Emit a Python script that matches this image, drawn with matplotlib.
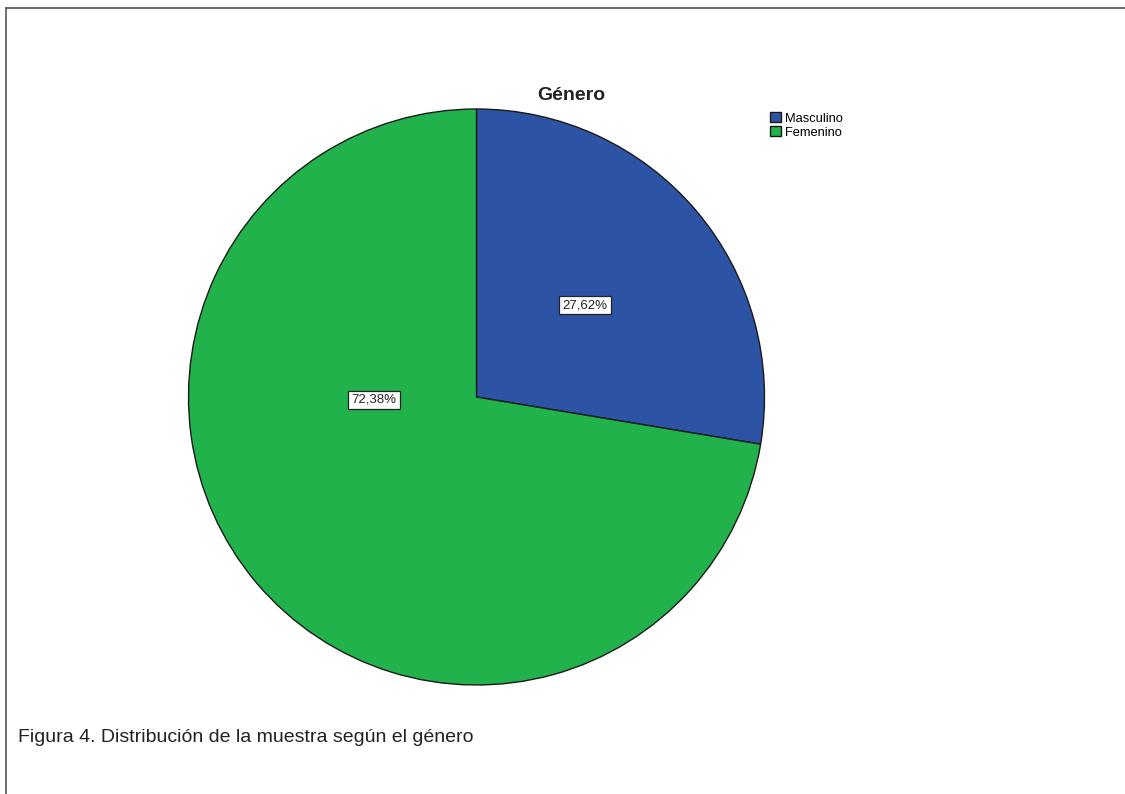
import matplotlib.pyplot as plt
from matplotlib.lines import Line2D

plt.rcParams['font.family'] = ['Liberation Sans', 'DejaVu Sans']

categories = ["Masculino", "Femenino"]
percentages = [27.62, 72.38]
colors = ["#2d53a4", "#21b24b"]

W, H = 1125, 794
fig = plt.figure(figsize=(W / 100, H / 100), dpi=100)
ax = fig.add_axes([0, 0, 1, 1])

# frame lines on the top and left only
ax.add_line(Line2D([6, 6], [0, H - 8], color="#555555", lw=1.2))
ax.add_line(Line2D([6, W], [H - 8, H - 8], color="#555555", lw=1.2))

wedges, _, autotexts = ax.pie(
    percentages, colors=colors, startangle=90, counterclock=False,
    center=(476.5, H - 397), radius=288, frame=True,
    autopct=lambda p: f"{p:.2f}%".replace(".", ","), pctdistance=0.493,
    wedgeprops=dict(edgecolor="#1a1a1a", linewidth=1.0),
    textprops=dict(fontsize=9.5, color="#222222"))
ax.set_xlim(0, W)
ax.set_ylim(0, H)
ax.set_aspect("equal")
ax.axis("off")

for t in autotexts:
    t.set_bbox(dict(boxstyle="square,pad=0.25", facecolor="white",
                    edgecolor="#222222", linewidth=0.9))
# the larger slice's label sits left of the centre
autotexts[1].set_position((374, H - 400))

ax.text(571, H - 95, "Género", ha="center", va="center",
        fontsize=14, fontweight="bold", color="#222222")

ax.legend(wedges, categories, loc="upper left",
          bbox_to_anchor=(770 / W, 1 - 112 / H), frameon=False,
          fontsize=9.3, handlelength=0.85, handleheight=0.85,
          handletextpad=0.3, labelspacing=0.1, borderpad=0,
          borderaxespad=0)

ax.text(18, H - 738, "Figura 4. Distribución de la muestra según el género",
        ha="left", va="center", fontsize=14, color="#222222")

fig.savefig("out.png", dpi=100)
